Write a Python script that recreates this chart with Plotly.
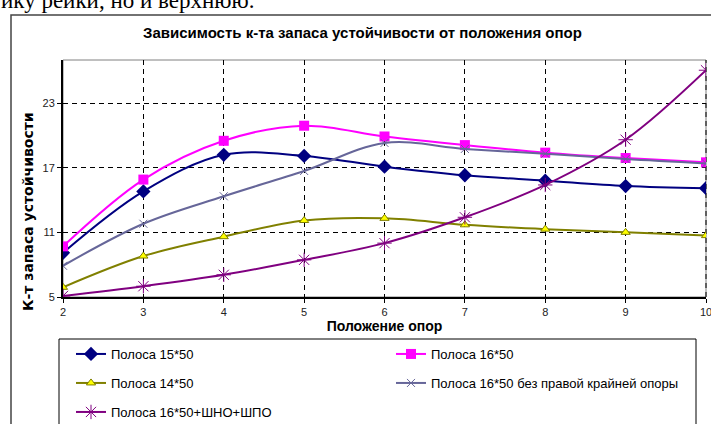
import plotly.graph_objects as go

positions = [2, 3, 4, 5, 6, 7, 8, 9, 10]
s_15x50 = [9.1, 14.8, 18.2, 18.1, 17.1, 16.3, 15.8, 15.3, 15.1]
s_16x50 = [9.7, 15.9, 19.5, 20.9, 19.9, 19.1, 18.4, 17.9, 17.5]
s_14x50 = [5.9, 8.8, 10.6, 12.1, 12.3, 11.7, 11.3, 11.0, 10.7]
s_16x50_noright = [7.9, 11.8, 14.35, 16.7, 19.3, 18.75, 18.3, 17.8, 17.4]
s_16x50_shno = [5.1, 6.0, 7.06, 8.45, 10.0, 12.4, 15.4, 19.6, 26.05]

names = ["Полоса 15*50", "Полоса 16*50", "Полоса 14*50",
         "Полоса 16*50 без правой крайней опоры", "Полоса 16*50+ШНО+ШПО"]
y_ticks = [5, 11, 17, 23]
x_ticks = positions

W, H = 711, 424
L, R, T, B = 63, 5, 60, 127
PW, PH = W - L - R, H - T - B

def px(xp):
    return (xp - L) / PW

def py(yp):
    return (T + PH - yp) / PH

FONT = "Liberation Sans, Arial, sans-serif"

fig = go.Figure()
styles = [
    dict(line=dict(color="#000080", width=2), marker=dict(symbol="diamond", size=11, color="#000080")),
    dict(line=dict(color="#FF00FF", width=2), marker=dict(symbol="square", size=10, color="#FF00FF")),
    dict(line=dict(color="#808000", width=2), marker=dict(symbol="triangle-up", size=8, color="#FFFF00",
                                                         line=dict(color="#808000", width=1))),
    dict(line=dict(color="#666699", width=2), marker=dict(symbol="x-thin", size=8, color="#666699",
                                                         line=dict(color="#666699", width=1))),
    dict(line=dict(color="#800080", width=2), marker=dict(symbol="asterisk-open", size=12, color="#800080",
                                                         line=dict(color="#800080", width=1))),
]
series = [s_15x50, s_16x50, s_14x50, s_16x50_noright, s_16x50_shno]
legend_ids = ["legend", "legend2", "legend3", "legend4", "legend5"]
legend_pos = [(71, 354), (391, 354), (71, 383), (391, 383), (71, 412)]
for name, vals, st, lg in zip(names, series, styles, legend_ids):
    fig.add_trace(go.Scatter(x=positions, y=vals, name=name, mode="lines+markers",
                             line_shape="spline", legend=lg, **st))
    fig.data[-1].line.smoothing = 1.0

leg_layout = {}
for lg, (lx, ly) in zip(legend_ids, legend_pos):
    leg_layout[lg] = dict(x=px(lx), y=py(ly), xanchor="left", yanchor="middle",
                          font=dict(family=FONT, size=13, color="#000000"),
                          bgcolor="rgba(0,0,0,0)", borderwidth=0, itemwidth=30)

fig.update_layout(
    width=W, height=H,
    margin=dict(l=L, r=R, t=T, b=B, autoexpand=False),
    paper_bgcolor="white", plot_bgcolor="white",
    showlegend=True,
    **leg_layout,
    xaxis=dict(range=[2, 10], tickvals=x_ticks, showgrid=True, gridcolor="#000000",
               griddash="5px,4px", gridwidth=1, showline=True, linecolor="#000000", linewidth=2,
               ticks="outside", ticklen=4, tickcolor="#000000", ticklabeloverflow="allow",
               tickfont=dict(family=FONT, size=11, color="#222222"), zeroline=False, automargin=False,
               title=dict(text="<b>Положение опор</b>", font=dict(family=FONT, size=14, color="#000000"),
                          standoff=2)),
    yaxis=dict(range=[5, 27], tickvals=y_ticks, showgrid=True, gridcolor="#000000",
               griddash="5px,4px", gridwidth=1, showline=True, linecolor="#000000", linewidth=2,
               ticks="outside", ticklen=4, tickcolor="#000000", automargin=False,
               tickfont=dict(family=FONT, size=11, color="#222222"), zeroline=False),
    annotations=[
        dict(text="<b>Зависимость к-та запаса устойчивости от положения опор</b>",
             xref="paper", yref="paper", x=px(362), y=py(32), xanchor="center", yanchor="middle",
             showarrow=False, font=dict(family=FONT, size=15, color="#000000")),
        dict(text="<b>К-т запаса устойчивости</b>", textangle=-90,
             xref="paper", yref="paper", x=px(28), y=py(212), xanchor="center", yanchor="middle",
             showarrow=False, font=dict(family="DejaVu Sans, sans-serif", size=14, color="#000000")),
        dict(text="ику рейки, но и верхнюю.",
             xref="paper", yref="paper", x=px(-1), y=py(1), xanchor="left", yanchor="middle",
             showarrow=False, font=dict(family="Liberation Serif, Times New Roman, serif", size=23,
                                        color="#000000")),
    ],
    shapes=[
        dict(type="rect", xref="paper", yref="paper", x0=px(11), x1=px(760), y0=py(500), y1=py(15),
             line=dict(color="#444444", width=1.5), layer="below"),
        dict(type="rect", xref="paper", yref="paper", x0=0, x1=1, y0=0, y1=1,
             line=dict(color="#808080", width=1), layer="below"),
        dict(type="line", xref="paper", yref="paper", x0=1, x1=1, y0=0, y1=1,
             line=dict(color="#000000", width=1, dash="5px,4px"), layer="below"),
        dict(type="rect", xref="paper", yref="paper", x0=px(59), x1=px(696), y0=py(500), y1=py(339),
             line=dict(color="#000000", width=1), layer="below"),
    ],
)

fig.write_html("out.html", config={"displayModeBar": False},
               post_script="document.body.style.margin='0';document.body.style.overflow='hidden';")
